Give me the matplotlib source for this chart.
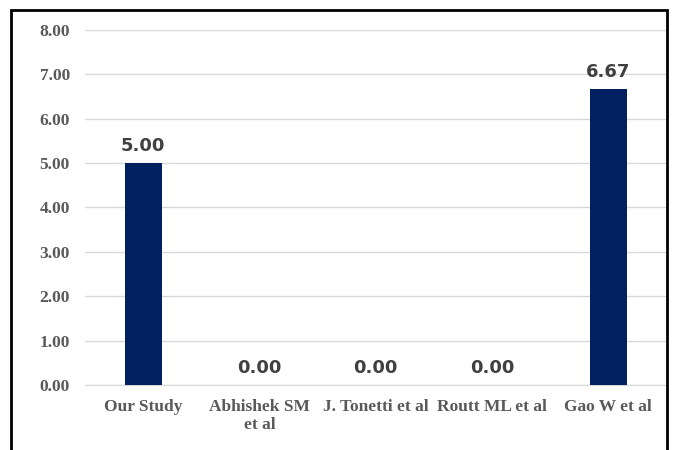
import matplotlib
matplotlib.use('Agg')
from matplotlib import pyplot as plt
from matplotlib.patches import Rectangle

# data
studies = ['Our Study', 'Abhishek SM\net al', 'J. Tonetti et al', 'Routt ML et al', 'Gao W et al']
values = [5.00, 0.00, 0.00, 0.00, 6.67]
yticks = [0, 1, 2, 3, 4, 5, 6, 7, 8]

fig = plt.figure(figsize=(6.75, 4.5), dpi=100)
ax = fig.add_axes([0.126, 0.1444, 0.861, 0.789])

bars = ax.bar(range(len(studies)), values, width=0.32, color='#002060', zorder=3)
for i, v in enumerate(values):
    ax.text(i, v + 0.18, '%.2f' % v, ha='center', va='bottom', fontsize=13,
            fontweight='bold', color='#404040', family='DejaVu Sans')

ax.set_xlim(-0.5, len(studies) - 0.5)
ax.set_ylim(0, 8)
ax.set_yticks(yticks)
ax.set_yticklabels(['%.2f' % t for t in yticks], family='Liberation Serif',
                   fontweight='bold', fontsize=12.5, color='#595959')
ax.set_xticks(range(len(studies)))
ax.set_xticklabels(studies, family='Liberation Serif', fontweight='bold',
                   fontsize=12.5, color='#595959', linespacing=1.2)
ax.tick_params(axis='both', length=0)
ax.tick_params(axis='y', pad=11)
ax.tick_params(axis='x', pad=10)
ax.grid(axis='y', color='#d9d9d9', linewidth=1, zorder=0)
for s in ['top', 'right', 'left']:
    ax.spines[s].set_visible(False)
ax.spines['bottom'].set_color('#d9d9d9')

# outer frame
fig.patches.append(Rectangle((0.0163, -0.1), 0.9717, 1.078, transform=fig.transFigure,
                             fill=False, edgecolor='black', linewidth=2))

plt.savefig('out.png', dpi=100)
